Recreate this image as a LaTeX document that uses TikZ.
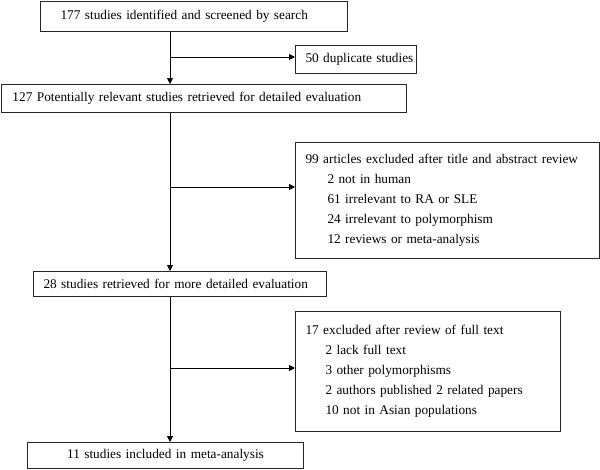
\documentclass[tikz,border=0pt]{standalone}
\usepackage{fontspec}
\setmainfont{Liberation Serif}
\usetikzlibrary{arrows.meta}
\begin{document}
\begin{tikzpicture}[x=1pt,y=-1pt,
  box/.style={draw=black!85, line width=1pt, anchor=north west, align=left,
    inner ysep=0pt, font=\fontsize{13.3}{20}\selectfont},
  arr/.style={line width=1pt, -{Triangle[length=6pt,width=6pt]}}]
\useasboundingbox (0,0) rectangle (600,469);
\node[box, inner xsep=20pt, text width=267pt, minimum height=30pt] (b1) at (40,1)
  {177 studies identified and screened by search};
\node[box, inner xsep=2pt, text width=117pt, minimum height=28pt] (b50) at (295,45)
  {\mbox{\hspace*{8pt}50 duplicate studies}};
\node[box, inner xsep=11pt, text width=383pt, minimum height=28pt] (b127) at (1,84)
  {127 Potentially relevant studies retrieved for detailed evaluation};
\node[box, inner xsep=10pt, text width=284pt, minimum height=116pt] (b99) at (295,142)
  {99 articles excluded after title and abstract review\\
   \hspace*{22pt}2 not in human\\
   \hspace*{22pt}61 irrelevant to RA or SLE\\
   \hspace*{22pt}24 irrelevant to polymorphism\\
   \hspace*{22pt}12 reviews or meta-analysis};
\node[box, inner xsep=10pt, text width=273pt, minimum height=25pt] (b28) at (33,271)
  {28 studies retrieved for more detailed evaluation};
\node[box, inner xsep=10pt, text width=245pt, minimum height=120pt] (b17) at (295,311)
  {17 excluded after review of full text\\
   \hspace*{20pt}2 lack full text\\
   \hspace*{20pt}3 other polymorphisms\\
   \hspace*{20pt}2 authors published 2 related papers\\
   \hspace*{20pt}10 not in Asian populations};
\node[box, inner xsep=0pt, text width=276pt, minimum height=26pt, align=center] (b11) at (27,442)
  {11 studies included in meta-analysis};
\coordinate (t) at (170,0);
\coordinate (j1) at (170,57);
\coordinate (j2) at (170,187);
\coordinate (j3) at (170,368);
\draw[arr] (b1.south -| t) -- (b127.north -| t);
\draw[arr] (j1) -- (j1 -| b50.west);
\draw[arr] (b127.south -| t) -- (b28.north -| t);
\draw[arr] (j2) -- (j2 -| b99.west);
\draw[arr] (b28.south -| t) -- (b11.north -| t);
\draw[arr] (j3) -- (j3 -| b17.west);
\end{tikzpicture}
\end{document}
